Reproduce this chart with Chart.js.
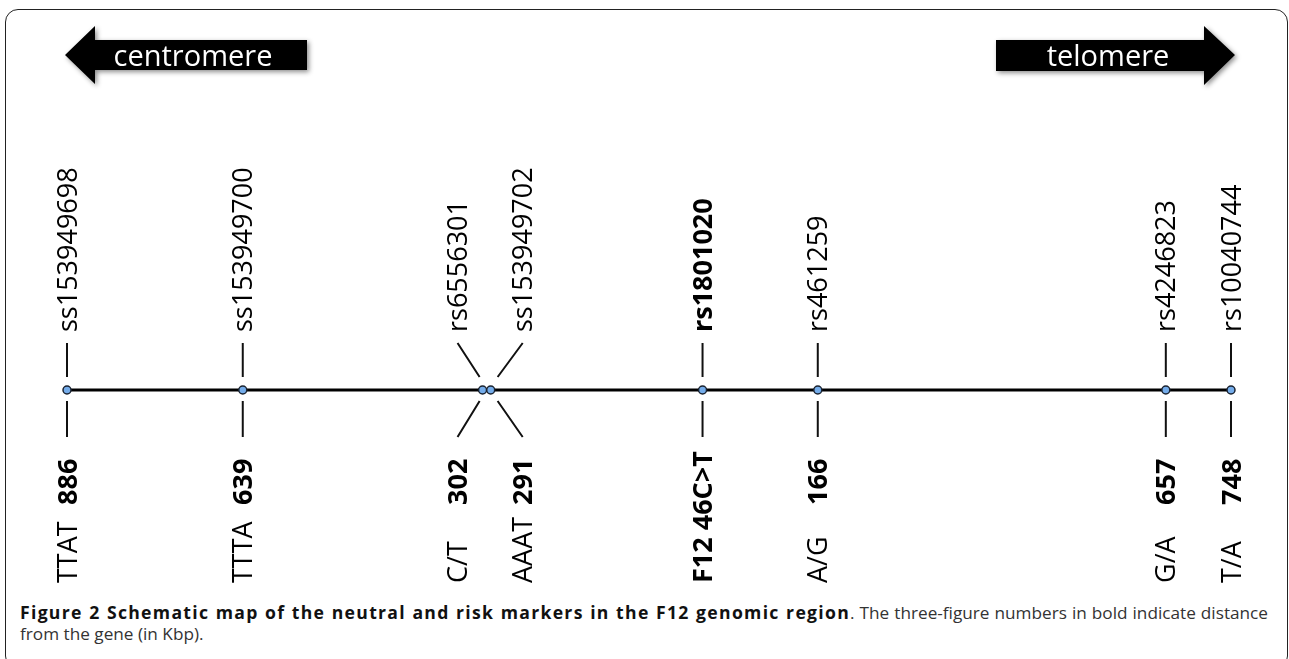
<!DOCTYPE html>
<html>
<head>
<meta charset="utf-8">
<script src="https://cdn.jsdelivr.net/npm/chart.js@4.4.1/dist/chart.umd.min.js"></script>
<style>
    html, body { margin: 0; padding: 0; background: #fff; }
    body { width: 1289px; height: 659px; position: relative; overflow: hidden; }
    #frame {
        position: absolute; left: 5px; top: 9px; width: 1283px; height: 660px;
        box-sizing: border-box; border: 1.5px solid #222; border-radius: 13px;
        pointer-events: none;
    }
    #mapChart { position: absolute; left: 0; top: 0; }
    #caption {
        position: absolute; left: 20px; top: 602px; width: 1248px;
        font-family: "Open Sans", sans-serif; font-size: 17.2px; line-height: 21px; color: #333;
    }
    #caption .l1 { text-align: justify; text-align-last: justify; white-space: nowrap; }
    #caption b { color: #111; font-size: 17.6px; letter-spacing: 1.3px; }
</style>
</head>
<body>
<div id="frame"></div>
<canvas id="mapChart" width="1289" height="598"></canvas>
<div id="caption">
    <div class="l1"><b>Figure 2 Schematic map of the neutral and risk markers in the F12 genomic region</b>. The three-figure numbers in bold indicate distance</div>
    <div>from the gene (in Kbp).</div>
</div>
<script>
// marcadores ao longo do segmento (posicao esquematica, 0 = primeiro, 100 = ultimo)
const markerNames = ['ss153949698', 'ss153949700', 'rs6556301', 'ss153949702', 'rs1801020', 'rs461259', 'rs4246823', 'rs10040744'];
const markerPos = [0, 15.1, 35.7, 36.4, 54.6, 64.5, 94.4, 100];
const distances = ['886', '639', '302', '291', '', '166', '657', '748'];
const alleles = ['TTAT', 'TTTA', 'C/T', 'AAAT', 'F12 46C>T', 'A/G', 'G/A', 'T/A'];
const riskMarkers = ['rs1801020'];
const directions = ['centromere', 'telomere'];

const FONT = '"Open Sans", sans-serif';

function textUp(ctx, text, x, yStart, size, bold) {
    ctx.save();
    ctx.font = (bold ? 'bold ' : '') + size + 'px ' + FONT;
    ctx.translate(x, yStart);
    ctx.rotate(-Math.PI / 2);
    ctx.textAlign = 'left';
    ctx.textBaseline = 'alphabetic';
    ctx.fillText(text, 0, size * 0.357);
    ctx.restore();
}

function drawArrow(ctx, pts, label, cx) {
    ctx.save();
    ctx.shadowColor = 'rgba(0,0,0,0.45)';
    ctx.shadowBlur = 5;
    ctx.shadowOffsetX = 2;
    ctx.shadowOffsetY = 2;
    ctx.fillStyle = '#000';
    ctx.beginPath();
    pts.forEach(([px, py], i) => i ? ctx.lineTo(px, py) : ctx.moveTo(px, py));
    ctx.closePath();
    ctx.fill();
    ctx.restore();
    ctx.save();
    ctx.fillStyle = '#fff';
    ctx.font = '29px ' + FONT;
    ctx.textAlign = 'center';
    ctx.textBaseline = 'alphabetic';
    ctx.fillText(label, cx, 66);
    ctx.restore();
}

const mapPlugin = {
    id: 'mapLabels',
    afterDatasetsDraw(chart) {
        const { ctx, scales: { x, y } } = chart;
        const y0 = y.getPixelForValue(0);
        const px = markerPos.map(v => x.getPixelForValue(v));

        // rotulos de marcadores muito proximos sao afastados
        const lx = px.slice();
        const inner = px.slice();
        for (let i = 0; i < px.length - 1; i++) {
            if (px[i + 1] - px[i] < 20) {
                const mid = (px[i] + px[i + 1]) / 2;
                lx[i] = px[i] - 25;
                lx[i + 1] = px[i + 1] + 32;
                inner[i] = mid - 7;
                inner[i + 1] = mid + 11;
            }
        }

        ctx.save();
        ctx.strokeStyle = '#111';
        ctx.lineWidth = 2;
        px.forEach((p, i) => {
            ctx.beginPath();
            ctx.moveTo(lx[i], y0 - 47);
            ctx.lineTo(inner[i], y0 - 13);
            ctx.moveTo(inner[i], y0 + 11);
            ctx.lineTo(lx[i], y0 + 47);
            ctx.stroke();
        });
        ctx.restore();

        ctx.save();
        ctx.fillStyle = '#000';
        markerNames.forEach((name, i) => {
            const risk = riskMarkers.includes(name);
            textUp(ctx, name, lx[i], y0 - 58, 27, risk);
            if (distances[i]) textUp(ctx, distances[i], lx[i], y0 + 115, 27, true);
            textUp(ctx, alleles[i], lx[i], y0 + 193, 27, risk);
        });
        ctx.restore();

        drawArrow(ctx, [[65, 55], [95, 26], [95, 40], [307, 40], [307, 70], [95, 70], [95, 84]], directions[0], 193);
        drawArrow(ctx, [[996, 40], [1204, 40], [1204, 26], [1235, 55], [1204, 85], [1204, 71], [996, 71]], directions[1], 1108);
    }
};

const ctx = document.getElementById('mapChart').getContext('2d');
new Chart(ctx, {
    type: 'scatter',
    data: {
        datasets: [{
            data: markerPos.map(v => ({ x: v, y: 0 })),
            showLine: true,
            clip: false,
            borderColor: '#000',
            borderWidth: 3,
            pointRadius: 4,
            pointBackgroundColor: '#74acea',
            pointBorderColor: '#1b2330',
            pointBorderWidth: 1.5
        }]
    },
    options: {
        responsive: false,
        animation: false,
        layout: { padding: { left: 67, right: 58, top: 380, bottom: 198 } },
        scales: {
            x: { type: 'linear', display: false, min: 0, max: 100 },
            y: { display: false, min: -1, max: 1 }
        },
        plugins: {
            legend: { display: false },
            tooltip: { enabled: false }
        }
    },
    plugins: [mapPlugin]
});
</script>
</body>
</html>
